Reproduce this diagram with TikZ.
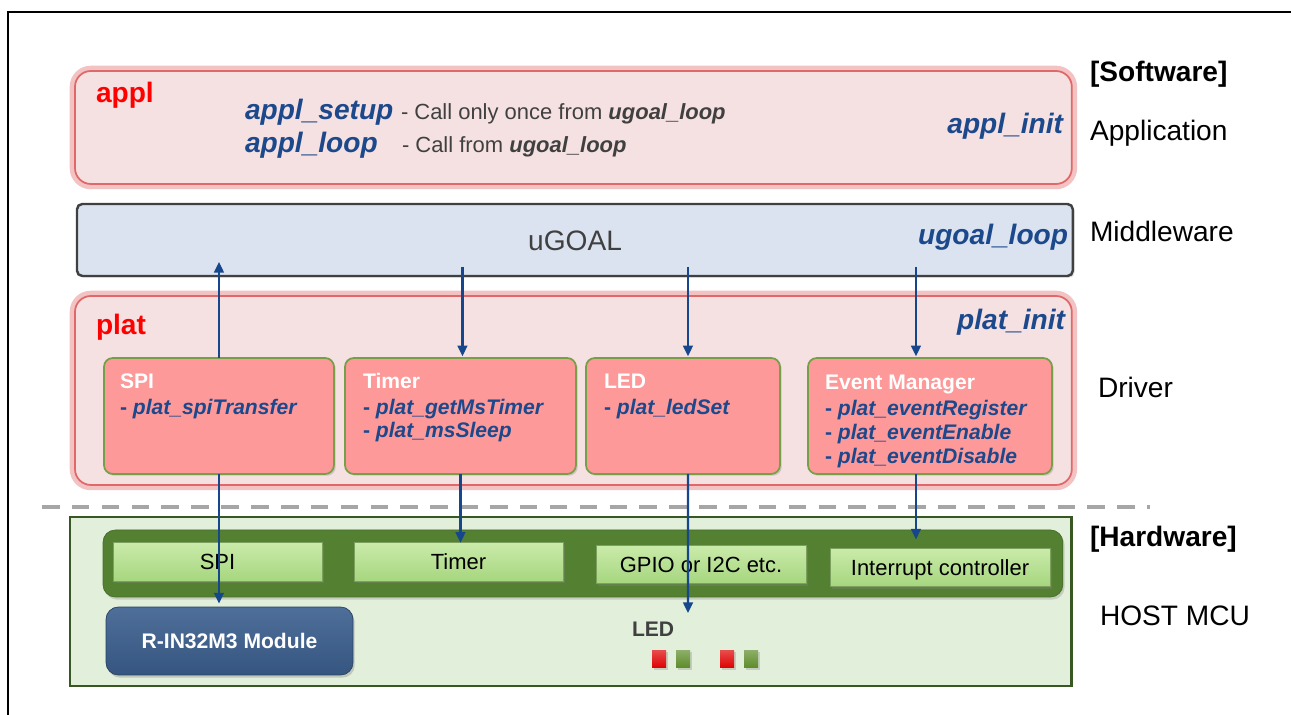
\documentclass[tikz,border=0pt]{standalone}
\usepackage{fontspec}
\setmainfont{Liberation Sans}
\usetikzlibrary{arrows.meta,shadows,calc}
\definecolor{layerpink}{RGB}{245,225,225}
\definecolor{glowred}{RGB}{224,104,104}
\definecolor{midblue}{RGB}{218,227,239}
\definecolor{txtblue}{RGB}{28,72,140}
\definecolor{arrowblue}{RGB}{22,70,140}
\definecolor{drvpink}{RGB}{253,153,153}
\definecolor{drvgreen}{RGB}{118,160,72}
\definecolor{hostfill}{RGB}{226,239,218}
\definecolor{hostedge}{RGB}{56,87,35}
\definecolor{busgreen}{RGB}{84,128,50}
\definecolor{hwtop}{RGB}{202,235,170}
\definecolor{hwbottom}{RGB}{166,214,126}
\definecolor{modblue}{RGB}{59,95,142}
\definecolor{darkgray}{RGB}{64,64,64}
\definecolor{ledred}{RGB}{222,0,0}
\definecolor{ledgreen}{RGB}{92,140,40}
\definecolor{dashgray}{RGB}{166,166,166}

\begin{document}
\begin{tikzpicture}[x=0.02cm,y=-0.02cm,
    every node/.style={inner sep=0pt,outer sep=0pt},
    layerbox/.style={draw=glowred,line width=1pt,fill=layerpink,rounded corners=9pt,anchor=north west,
        preaction={draw=glowred,line width=6pt,opacity=.4}},
    midbox/.style={draw=darkgray,line width=1.4pt,fill=midblue,rounded corners=3pt,anchor=north west,
        drop shadow={shadow xshift=1pt,shadow yshift=-1pt,opacity=.25}},
    drvbox/.style={draw=drvgreen,line width=1pt,fill=drvpink,rounded corners=5pt,anchor=north west,
        minimum height=2.32cm,drop shadow={shadow xshift=1pt,shadow yshift=-1pt,opacity=.3}},
    hostbox/.style={draw=hostedge,line width=1.6pt,fill=hostfill,anchor=north west},
    busbar/.style={draw=busgreen!85!black,fill=busgreen,rounded corners=7pt,anchor=north west,
        drop shadow={shadow xshift=1pt,shadow yshift=-1.5pt,opacity=.3}},
    hwbox/.style={draw=hwbottom!75!black,line width=.4pt,top color=hwtop,bottom color=hwbottom,
        minimum height=0.77cm,font=\fontsize{12.5}{15}\selectfont,text height=9pt,text depth=0pt,
        drop shadow={shadow xshift=1pt,shadow yshift=-1pt,opacity=.35}},
    modbox/.style={draw=modblue!70!black,top color=modblue!90!white,bottom color=modblue!90!black,
        rounded corners=7pt,text=white,font=\fontsize{12}{14}\selectfont\bfseries,
        drop shadow={shadow xshift=1pt,shadow yshift=-1.5pt,opacity=.35}},
    ledsq/.style={minimum width=0.28cm,minimum height=0.36cm,drop shadow={shadow xshift=1pt,shadow yshift=-1pt,opacity=.3}},
    redlbl/.style={font=\fontsize{16}{19}\selectfont\bfseries,text=red,anchor=base west},
    fnname/.style={font=\fontsize{16}{19}\selectfont\bfseries\itshape,text=txtblue},
    notetxt/.style={font=\fontsize{12.5}{15}\selectfont,text=darkgray,anchor=base west},
    drvtitle/.style={font=\fontsize{12}{14}\selectfont\bfseries,text=white,anchor=base west},
    drvfn/.style={font=\fontsize{12}{14}\selectfont\bfseries\itshape,text=txtblue,anchor=base west},
    sidelbl/.style={font=\fontsize{16}{19}\selectfont,anchor=base west},
    flowarrow/.style={draw=arrowblue,line width=1.2pt,-{Triangle[length=6pt,width=5.5pt]}},
    sepline/.style={draw=dashgray,line width=2.3pt,dash pattern=on 10pt off 7pt}]

    \useasboundingbox (0,0) rectangle (1291,715);
    \draw[line width=1.3pt] (8,715) -- (8,12) -- (1291,12);

    % software layers
    \node[layerbox,minimum width=19.94cm,minimum height=2.26cm] (appl) at (75,71) {};
    \node[midbox,minimum width=19.92cm,minimum height=1.44cm] (mid) at (77,204) {};
    \node[layerbox,minimum width=19.94cm,minimum height=3.78cm] (plat) at (75,296) {};

    \node[redlbl] (applLbl) at (96,103) {appl};
    \node[fnname,anchor=base west] (setupFn) at (245,120) {appl\_setup};
    \node[notetxt] (setupNote) at (401,120) {- Call only once from \textbf{\textit{ugoal\_loop}}};
    \node[fnname,anchor=base west] (loopFn) at (245,153) {appl\_loop};
    \node[notetxt] (loopNote) at (402,153) {- Call from \textbf{\textit{ugoal\_loop}}};
    \node[fnname,anchor=base east] (applInit) at (1063,134) {appl\_init};

    \node[font=\fontsize{16}{19}\selectfont,text=darkgray,anchor=base] (ugoal) at (575,251) {uGOAL};
    \node[fnname,anchor=base east] (ugoalLoop) at (1068,245) {ugoal\_loop};

    \node[redlbl] (platLbl) at (96,335) {plat};
    \node[fnname,anchor=base east] (platInit) at (1065,330) {plat\_init};

    % driver boxes
    \node[drvbox,minimum width=4.6cm] (spiDrv) at (104,358) {};
    \node[drvbox,minimum width=4.62cm] (timerDrv) at (345,358) {};
    \node[drvbox,minimum width=3.88cm] (ledDrv) at (586,358) {};
    \node[drvbox,minimum width=4.88cm] (evDrv) at (808,358) {};

    \node[drvtitle] (spiT) at ($(spiDrv.north west)+(16,31)$) {SPI};
    \node[drvfn] (spiF) at ($(spiDrv.north west)+(16,57)$) {\textup{-} plat\_spiTransfer};
    \node[drvtitle] (timerT) at ($(timerDrv.north west)+(18,31)$) {Timer};
    \node[drvfn] (timerF1) at ($(timerDrv.north west)+(18,57)$) {\textup{-} plat\_getMsTimer};
    \node[drvfn] (timerF2) at ($(timerDrv.north west)+(18,80)$) {\textup{-} plat\_msSleep};
    \node[drvtitle] (ledT) at ($(ledDrv.north west)+(18,31)$) {LED};
    \node[drvfn] (ledF) at ($(ledDrv.north west)+(18,57)$) {\textup{-} plat\_ledSet};
    \node[drvtitle] (evT) at ($(evDrv.north west)+(17,32)$) {Event Manager};
    \node[drvfn] (evF1) at ($(evDrv.north west)+(17,58)$) {\textup{-} plat\_eventRegister};
    \node[drvfn] (evF2) at ($(evDrv.north west)+(17,82)$) {\textup{-} plat\_eventEnable};
    \node[drvfn] (evF3) at ($(evDrv.north west)+(17,106)$) {\textup{-} plat\_eventDisable};

    \draw[sepline] (42,507) -- (1150,507);

    % hardware
    \node[hostbox,minimum width=20.04cm,minimum height=3.38cm] (host) at (70,517) {};
    \node[busbar,minimum width=19.2cm,minimum height=1.34cm] (bus) at (103,530) {};
    \node[hwbox,minimum width=4.18cm] (spiHw) at (217.5,562) {SPI};
    \node[hwbox,minimum width=4.18cm] (timerHw) at (458.5,562) {Timer};
    \node[hwbox,minimum width=4.2cm] (gpioHw) at (701,564.5) {GPIO or I2C etc.};
    \node[hwbox,minimum width=4.4cm] (intHw) at (940,567.5) {Interrupt controller};
    \node[modbox,minimum width=4.94cm,minimum height=1.36cm] (module) at (229.5,641) {R-IN32M3 Module};

    \node[font=\fontsize{12}{14}\selectfont\bfseries,text=darkgray,anchor=base west] (ledLbl) at (632,637) {LED};
    \node[ledsq,top color=ledred!70!white,bottom color=ledred] (led1) at (659,659) {};
    \node[ledsq,top color=ledgreen!70!white,bottom color=ledgreen] (led2) at (683,659) {};
    \node[ledsq,top color=ledred!70!white,bottom color=ledred] (led3) at (727,659) {};
    \node[ledsq,top color=ledgreen!70!white,bottom color=ledgreen] (led4) at (751,659) {};
    \coordinate (ledTip) at (688,613);
    \coordinate (ledOut) at ($(ledDrv.south)+(5,0)$);
    \coordinate (evOut) at ($(evDrv.south)+(-14,0)$);

    % calls
    \draw[flowarrow] (spiDrv.north) -- ($(spiDrv.north |- mid.south)+(0,-14)$);
    \draw[flowarrow,shorten >=1pt] ($(timerDrv.north |- mid.south)+(2,-9)$) -- ($(timerDrv.north)+(2,0)$);
    \draw[flowarrow,shorten >=1pt] ($(ledDrv.north |- mid.south)+(5,-9)$) -- ($(ledDrv.north)+(5,0)$);
    \draw[flowarrow,shorten >=1pt] ($(evDrv.north |- mid.south)+(-14,-9)$) -- ($(evDrv.north)+(-14,0)$);

    \draw[flowarrow,shorten >=2pt] (spiDrv.south) -- (spiDrv.south |- module.north);
    \draw[flowarrow] (timerDrv.south) -- (timerDrv.south |- timerHw.north);
    \draw[flowarrow] (ledOut) -- (ledTip);
    \draw[flowarrow,shorten >=5pt] (evOut) -- (evOut |- intHw.north);

    % layer names
    \node[sidelbl,font=\fontsize{16}{19}\selectfont\bfseries] (swLbl) at (1090,82) {[Software]};
    \node[sidelbl] (appLayer) at (1090,141) {Application};
    \node[sidelbl] (midLayer) at (1090,242) {Middleware};
    \node[sidelbl] (drvLayer) at (1098,398) {Driver};
    \node[sidelbl,font=\fontsize{16}{19}\selectfont\bfseries] (hwLbl) at (1090,547) {[Hardware]};
    \node[sidelbl] (mcuLayer) at (1100,625) {HOST MCU};
\end{tikzpicture}
\end{document}
